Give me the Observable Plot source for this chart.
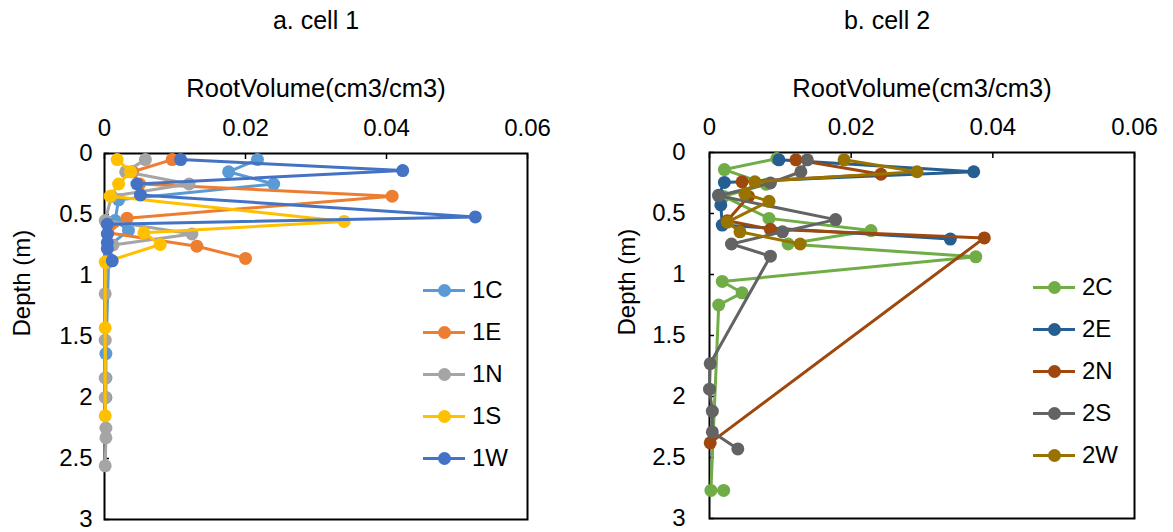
<!DOCTYPE html>
<html>
<head>
<meta charset="utf-8">
<script src="https://cdn.jsdelivr.net/npm/d3@7"></script>
<script src="https://cdn.jsdelivr.net/npm/@observablehq/plot@0.6"></script>
<style>
  body { margin: 0; background: #fff; }
  #wrap { position: relative; width: 1173px; height: 532px; background: #fff; font-family: "Liberation Sans", Arial, sans-serif; }
  .panel { position: absolute; top: 0; }
  .leg { position: absolute; font-size: 24px; color: #000; }
  .leg .row { position: absolute; left: 0; height: 0; white-space: nowrap; }
  .leg .ln { position: absolute; left: 0; width: 42px; height: 3px; top: -1.5px; }
  .leg .dt { position: absolute; left: 15px; width: 13px; height: 13px; border-radius: 50%; top: -6.5px; }
  .leg .tx { position: absolute; left: 49px; top: -14px; line-height: 28px; }
</style>
</head>
<body>
<div id="wrap">
  <div id="pa" class="panel" style="left:0"></div>
  <div id="pb" class="panel" style="left:586px"></div>
  <div id="la" class="leg" style="left:423px; top:290px"></div>
  <div id="lb" class="leg" style="left:1033px; top:287px"></div>
</div>
<script>
// ---------- data ----------
const xTicks = [0, 0.02, 0.04, 0.06];
const yTicks = [0, 0.5, 1, 1.5, 2, 2.5, 3];

// cell 1
const seriesA = ["1C", "1E", "1N", "1S", "1W"];
const colorsA = ["#5B9BD5", "#ED7D31", "#A5A5A5", "#FFC000", "#4472C4"];
const depth1C = [0.05, 0.15, 0.25, 0.38, 0.55, 0.63, 0.75, 0.86, 1.64, 1.84, 2.0];
const vol1C   = [0.0217, 0.0176, 0.024, 0.002, 0.0015, 0.0034, 0.0008, 0.0006, 0.0002, 0.0002, 0.0002];
const depth1E = [0.05, 0.15, 0.25, 0.35, 0.53, 0.65, 0.76, 0.86];
const vol1E   = [0.0096, 0.004, 0.005, 0.0408, 0.0032, 0.0005, 0.0131, 0.020];
const depth1N = [0.05, 0.15, 0.25, 0.35, 0.55, 0.66, 0.75, 0.9, 1.15, 1.53, 1.84, 2.0, 2.25, 2.33, 2.56];
const vol1N   = [0.0058, 0.003, 0.012, 0.001, 0.0001, 0.0124, 0.0012, 0.0003, 0.0001, 0.0001, 0.0001, 0.0001, 0.0002, 0.0002, 0.0001];
const depth1S = [0.05, 0.15, 0.25, 0.35, 0.557, 0.65, 0.746, 0.89, 1.43, 2.15];
const vol1S   = [0.0018, 0.0037, 0.002, 0.0008, 0.034, 0.0056, 0.0079, 0.0001, 0.0001, 0.0001];
const depth1W = [0.05, 0.14, 0.25, 0.34, 0.52, 0.58, 0.66, 0.73, 0.78, 0.88];
const vol1W   = [0.0108, 0.0423, 0.0046, 0.0051, 0.0526, 0.0004, 0.0004, 0.0004, 0.0004, 0.0011];

// cell 2
const seriesB = ["2C", "2E", "2N", "2S", "2W"];
const colorsB = ["#70AD47", "#255E91", "#9E480E", "#636363", "#997300"];
const depth2C = [0.05, 0.14, 0.26, 0.36, 0.54, 0.64, 0.75, 0.855, 1.057, 1.15, 1.25, 2.77, 2.77];
const vol2C   = [0.0095, 0.0021, 0.008, 0.002, 0.0084, 0.0228, 0.0111, 0.0376, 0.0018, 0.0046, 0.0013, 0.0002, 0.002];
const depth2E = [0.06, 0.158, 0.245, 0.35, 0.43, 0.595, 0.71];
const vol2E   = [0.0098, 0.0373, 0.0021, 0.0013, 0.0016, 0.0018, 0.034];
const depth2N = [0.06, 0.178, 0.24, 0.36, 0.56, 0.63, 0.70, 2.38];
const vol2N   = [0.0122, 0.0242, 0.0046, 0.0055, 0.0025, 0.0086, 0.0388, 0.0001];
const depth2S = [0.06, 0.158, 0.25, 0.355, 0.55, 0.65, 0.75, 0.85, 1.73, 1.94, 2.12, 2.29, 2.43];
const vol2S   = [0.0138, 0.0129, 0.0086, 0.0013, 0.0178, 0.0103, 0.0031, 0.0086, 0.0001, 0.0, 0.0004, 0.0004, 0.004];
const depth2W = [0.06, 0.158, 0.24, 0.34, 0.40, 0.57, 0.65, 0.75];
const vol2W   = [0.019, 0.0293, 0.0064, 0.005, 0.0084, 0.0025, 0.0043, 0.0128];

const titleA = "a. cell 1", titleB = "b. cell 2";
const xLabel = "RootVolume(cm3/cm3)", yLabel = "Depth (m)";

// ---------- build ----------
function rows(depths, vols) { return depths.map((d, i) => ({depth: d, vol: vols[i]})); }
const dataA = [rows(depth1C, vol1C), rows(depth1E, vol1E), rows(depth1N, vol1N), rows(depth1S, vol1S), rows(depth1W, vol1W)];
const dataB = [rows(depth2C, vol2C), rows(depth2E, vol2E), rows(depth2N, vol2N), rows(depth2S, vol2S), rows(depth2W, vol2W)];

const FONT = "'Liberation Sans', Arial, sans-serif";

function panel(el, data, colors, title, opts) {
  const seriesMarks = [];
  data.forEach((d, i) => {
    seriesMarks.push(Plot.line(d, {x: "vol", y: "depth", stroke: colors[i], strokeWidth: 3}));
    seriesMarks.push(Plot.dot(d, {x: "vol", y: "depth", fill: colors[i], r: 6.5}));
  });
  const chart = Plot.plot({
    width: opts.width, height: 532,
    marginLeft: opts.ml, marginRight: opts.mr, marginTop: opts.mt, marginBottom: opts.mb,
    style: {fontFamily: FONT, fontSize: "24px", background: "transparent", color: "#000"},
    x: {domain: [0, 0.06]},
    y: {domain: [0, 3], reverse: true},
    marks: [
      Plot.frame({stroke: "#000", strokeWidth: 2}),
      Plot.axisX(xTicks, {anchor: "top", tickSize: -5, tickPadding: 23, strokeWidth: 1.5, tickFormat: d => String(d), label: null, fontSize: 24}),
      Plot.axisY(yTicks, {anchor: "left", tickSize: -5, tickPadding: opts.yPad, strokeWidth: 1.5, tickFormat: d => String(d), label: null, fontSize: 24}),
      ...seriesMarks,
      Plot.text([xLabel], {text: d => d, frameAnchor: "top", dy: opts.labDy, lineAnchor: "middle", fontSize: 25.5}),
      Plot.text([title], {text: d => d, frameAnchor: "top", dy: opts.titleDy, dx: opts.titleDx, lineAnchor: "middle", fontSize: 25}),
      Plot.text([yLabel], {text: d => d, frameAnchor: "left", dx: -82, rotate: -90, lineAnchor: "middle", fontSize: 24})
    ]
  });
  el.appendChild(chart);
}

panel(document.getElementById("pa"), dataA, colorsA, titleA,
  {width: 586, ml: 104, mr: 59, mt: 153, mb: 13, yPad: 17, labDy: -65, titleDy: -133, titleDx: 0});
panel(document.getElementById("pb"), dataB, colorsB, titleB,
  {width: 587, ml: 123, mr: 39, mt: 152, mb: 14, yPad: 29, labDy: -64, titleDy: -132, titleDx: -35});

function legend(el, names, colors) {
  names.forEach((n, i) => {
    const row = document.createElement("div");
    row.className = "row";
    row.style.top = (i * 42) + "px";
    row.innerHTML = `<div class="ln" style="background:${colors[i]}"></div><div class="dt" style="background:${colors[i]}"></div><div class="tx">${n}</div>`;
    el.appendChild(row);
  });
}
legend(document.getElementById("la"), seriesA, colorsA);
legend(document.getElementById("lb"), seriesB, colorsB);
</script>
</body>
</html>
